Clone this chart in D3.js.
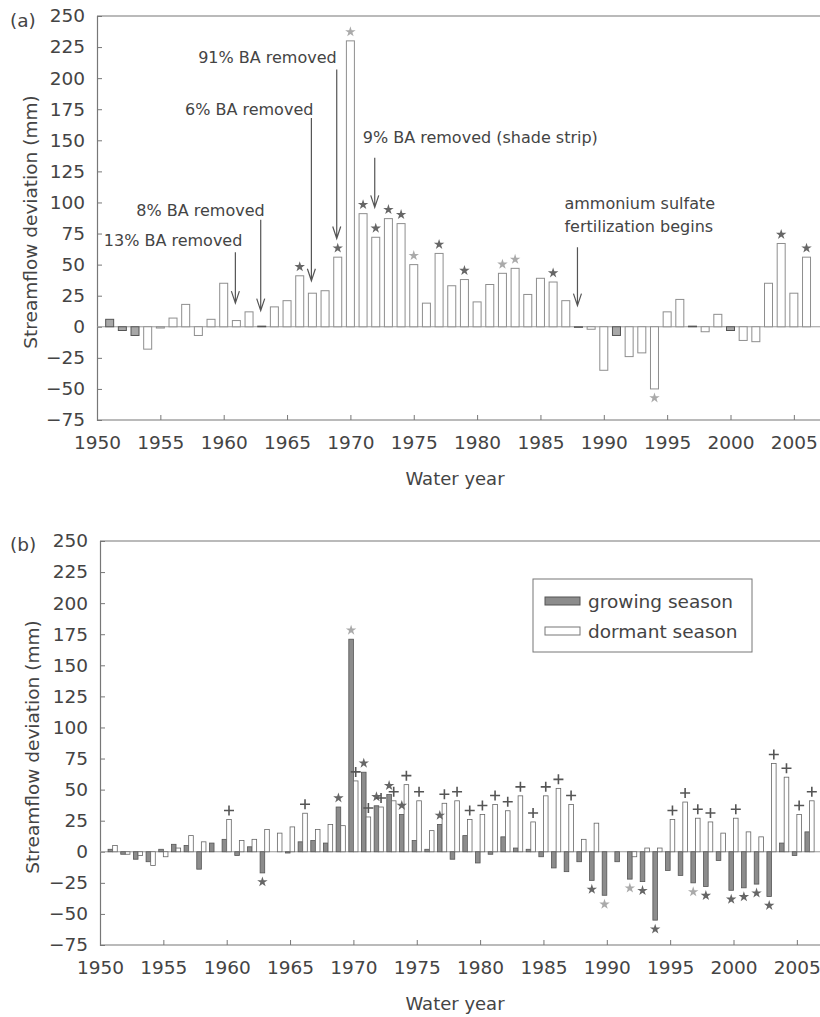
<!DOCTYPE html>
<html>
<head>
<meta charset="utf-8">
<script src="https://cdn.jsdelivr.net/npm/d3@7"></script>
<style>
  body { margin: 0; background: #fff; }
  svg { display: block; }
  text { font-family: "DejaVu Sans", sans-serif; fill: #444; }
</style>
</head>
<body>
<div id="chart"></div>
<script>
// ---- panel (a): annual streamflow deviation ----
const yearsA = d3.range(1951, 2008);
const annualDev = [
   6,  -3,  -7, -18,  -1,   7,  18,  -7,   6,  35,   // 1951-1960
   5,  12, 0.5,  16,  21,  41,  27,  29,  56, 230,   // 1961-1970
  91,  72,  87,  83,  50,  19,  59,  33,  38,  20,   // 1971-1980
  34,  43,  47,  26,  39,  36,  21,-0.5,  -2, -35,   // 1981-1990
  -7, -24, -21, -50,  12,  22, 0.5,  -4,  10,  -3,   // 1991-2000
 -11, -12,  35,  67,  27,  56,   0                    // 2001-2007
];
const shadedYearsA = [1951, 1952, 1953, 1991, 2000];
const starsA = [1966, 1969, 1971, 1972, 1973, 1974, 1977, 1979, 1986, 2004, 2006];
const starsALight = [1970, 1975, 1982, 1983, 1994];

const treatments = [
  { text: ["13% BA removed"], year: 1961, from: 60, to: 19 },
  { text: ["8% BA removed"], year: 1963, from: 86, to: 13 },
  { text: ["6% BA removed"], year: 1967, from: 168, to: 37 },
  { text: ["91% BA removed"], year: 1969, from: 207, to: 71 },
  { text: ["9% BA removed (shade strip)"], year: 1972, from: 136, to: 96 },
  { text: ["ammonium sulfate", "fertilization begins"], year: 1988, from: 64, to: 17 }
];

// ---- panel (b): growing vs dormant season ----
const yearsB = d3.range(1951, 2007);
const growingDev = [
   2,  -2,  -6,  -8,   2,   6,   5, -14,   7,  10,   // 1951-1960
  -3,   4, -17,   0,  -1,   8,   9,   7,  36, 171,   // 1961-1970
  64,  37,  46,  30,   9,   2,  22,  -6,  13,  -9,   // 1971-1980
  -2,  12,   3,   2,  -4, -13, -16,  -8, -23, -35,   // 1981-1990
  -8, -22, -24, -55, -15, -19, -25, -28,  -7, -31,   // 1991-2000
 -29, -26, -36,   7,  -3,  16                         // 2001-2006
];
const dormantDev = [
   5,  -2,  -3, -11,  -4,   3,  13,   8,   0,  26,   // 1951-1960
   9,  10,  18,  15,  20,  31,  18,  22,  21,  57,   // 1961-1970
  28,  36,  41,  54,  41,  17,  39,  41,  26,  30,   // 1971-1980
  38,  33,  45,  24,  45,  51,  38,  10,  23,   0,   // 1981-1990
   0,  -4,   3,   3,  26,  40,  27,  24,  15,  27,   // 1991-2000
  16,  12,  71,  60,  30,  41                         // 2001-2006
];
const starsGrowing = [1963, 1969, 1971, 1972, 1973, 1974, 1977, 1989, 1993, 1994, 1998, 2000, 2001, 2002, 2003];
const starsGrowingLight = [1970, 1990, 1992, 1997];
const plusDormant = [1960, 1966, 1970, 1971, 1972, 1973, 1974, 1975, 1977, 1978, 1979, 1980, 1981, 1982,
  1983, 1984, 1985, 1986, 1987, 1995, 1996, 1997, 1998, 2000, 2003, 2004, 2005, 2006];

const seriesNames = ["growing season", "dormant season"];
const yTicks = d3.range(-75, 251, 25);
const xTicks = d3.range(1950, 2006, 5);

// ---- layout ----
const W = 820, H = 1017;
const perYear = 12.67;
const panels = [
  { tag: "(a)", x0: 97, top: 16, bottom: 420, tagY: 27, titleX: 37, xLabelY: 485 },
  { tag: "(b)", x0: 100, top: 541, bottom: 945, tagY: 551, titleX: 39, xLabelY: 1010 }
];
// text offsets for the treatment labels, relative to the arrow top
const annoLayout = [
  { anchor: "end", dx: 7, dy: -6 },
  { anchor: "end", dx: 4, dy: -4 },
  { anchor: "end", dx: 2, dy: -3 },
  { anchor: "end", dx: 0, dy: -6 },
  { anchor: "start", dx: -12, dy: -15 },
  { anchor: "start", dx: -13, dy: -15 }
];

const svg = d3.select("#chart").append("svg")
  .attr("width", W)
  .attr("height", H);

function drawFrame(p) {
  const x = d3.scaleLinear().domain([1950, 2008]).range([p.x0, p.x0 + 58 * perYear]);
  const y = d3.scaleLinear().domain([-75, 250]).range([p.bottom, p.top]);
  const g = svg.append("g");

  // top border
  g.append("line")
    .attr("x1", p.x0).attr("x2", W)
    .attr("y1", p.top).attr("y2", p.top)
    .attr("stroke", "#777").attr("stroke-width", 1.2);

  const yAxis = g.append("g")
    .attr("transform", `translate(${p.x0},0)`)
    .call(d3.axisLeft(y).tickValues(yTicks).tickSize(-5).tickPadding(12));
  const xAxis = g.append("g")
    .attr("transform", `translate(0,${p.bottom})`)
    .call(d3.axisBottom(x).tickValues(xTicks).tickFormat(d3.format("d")).tickSize(-5).tickPadding(16));

  [yAxis, xAxis].forEach(a => {
    a.select(".domain").attr("stroke", "#777").attr("stroke-width", 1.2);
    a.selectAll(".tick line").attr("stroke", "#777");
    a.selectAll(".tick text").style("font-size", "18.5px").attr("fill", "#444");
  });
  xAxis.select(".domain").attr("d", `M${p.x0},0H${W}`);

  g.append("text")
    .attr("x", 10).attr("y", p.tagY)
    .style("font-size", "18.5px")
    .text(p.tag);

  g.append("text")
    .attr("transform", `translate(${p.titleX},${(p.top + p.bottom) / 2 + 4}) rotate(-90)`)
    .attr("text-anchor", "middle")
    .style("font-size", "18.5px")
    .text("Streamflow deviation (mm)");

  g.append("text")
    .attr("x", 455).attr("y", p.xLabelY)
    .attr("text-anchor", "middle")
    .style("font-size", "18px")
    .text("Water year");

  // zero line
  g.append("line")
    .attr("x1", p.x0).attr("x2", W)
    .attr("y1", y(0)).attr("y2", y(0))
    .attr("stroke", "#999").attr("stroke-width", 1);

  return { g, x, y };
}

const star = d3.symbol().type(d3.symbolStar).size(34);
const plusPath = "M-5,0H5M0,-5V5";

function drawStars(g, list, xPos, yPos, color) {
  g.selectAll(null)
    .data(list)
    .enter().append("path")
    .attr("d", star)
    .attr("transform", d => `translate(${xPos(d)},${yPos(d)})`)
    .attr("fill", color);
}

// ---------- panel (a) ----------
{
  const { g, x, y } = drawFrame(panels[0]);
  const bw = 8;
  const dataA = yearsA.map((yr, i) => ({ year: yr, v: annualDev[i] }));

  g.append("g").selectAll("rect")
    .data(dataA)
    .enter().append("rect")
    .attr("x", d => x(d.year) - bw / 2)
    .attr("width", bw)
    .attr("y", d => y(Math.max(0, d.v)))
    .attr("height", d => Math.abs(y(d.v) - y(0)))
    .attr("fill", d => shadedYearsA.includes(d.year) ? "#a8a8a8" : "#fff")
    .attr("stroke", d => shadedYearsA.includes(d.year) || Math.abs(d.v) < 1 ? "#555" : "#8e8e8e")
    .attr("stroke-width", 1);

  const valA = yr => annualDev[yearsA.indexOf(yr)];
  const markY = yr => valA(yr) >= 0 ? y(valA(yr)) - 9 : y(valA(yr)) + 9;
  drawStars(g, starsA, d => x(d), markY, "#666");
  drawStars(g, starsALight, d => x(d), markY, "#aaa");

  // treatment arrows
  treatments.forEach((t, i) => {
    const L = annoLayout[i];
    const ax = x(t.year) - 1, y1 = y(t.from), y2 = y(t.to);
    g.append("path")
      .attr("d", `M${ax},${y1}V${y2}M${ax - 4},${y2 - 12}L${ax},${y2}L${ax + 4},${y2 - 12}`)
      .attr("fill", "none")
      .attr("stroke", "#555")
      .attr("stroke-width", 1.2);
    const n = t.text.length;
    t.text.forEach((line, j) => {
      g.append("text")
        .attr("x", ax + L.dx)
        .attr("y", y1 + L.dy - (n - 1 - j) * 23)
        .attr("text-anchor", L.anchor)
        .style("font-size", "16px")
        .text(line);
    });
  });
}

// ---------- panel (b) ----------
{
  const { g, x, y } = drawFrame(panels[1]);
  const bw = 4.6;
  const dataB = yearsB.map((yr, i) => ({ year: yr, g: growingDev[i], d: dormantDev[i] }));

  g.append("g").selectAll("rect")
    .data(dataB)
    .enter().append("rect")
    .attr("x", d => x(d.year) - bw)
    .attr("width", bw)
    .attr("y", d => y(Math.max(0, d.g)))
    .attr("height", d => Math.abs(y(d.g) - y(0)))
    .attr("fill", "#8c8c8c")
    .attr("stroke", "#555")
    .attr("stroke-width", 0.8);

  g.append("g").selectAll("rect")
    .data(dataB)
    .enter().append("rect")
    .attr("x", d => x(d.year))
    .attr("width", bw)
    .attr("y", d => y(Math.max(0, d.d)))
    .attr("height", d => Math.abs(y(d.d) - y(0)))
    .attr("fill", "#fff")
    .attr("stroke", "#666")
    .attr("stroke-width", 0.8);

  const valG = yr => growingDev[yearsB.indexOf(yr)];
  const valD = yr => dormantDev[yearsB.indexOf(yr)];
  const gMarkY = yr => valG(yr) >= 0 ? y(valG(yr)) - 9 : y(valG(yr)) + 9;
  drawStars(g, starsGrowing, d => x(d) - bw / 2, gMarkY, "#666");
  drawStars(g, starsGrowingLight, d => x(d) - bw / 2, gMarkY, "#aaa");

  g.selectAll(null)
    .data(plusDormant)
    .enter().append("path")
    .attr("d", plusPath)
    .attr("transform", d => `translate(${x(d) + bw / 2},${y(valD(d)) - 9})`)
    .attr("fill", "none")
    .attr("stroke", "#555")
    .attr("stroke-width", 1.6);

  // legend
  const lg = g.append("g").attr("transform", "translate(533,579)");
  lg.append("rect")
    .attr("width", 219).attr("height", 73)
    .attr("fill", "#fff").attr("stroke", "#777").attr("stroke-width", 1);
  const swatchFill = ["#8c8c8c", "#fff"];
  const swatchStroke = ["#555", "#777"];
  seriesNames.forEach((name, i) => {
    lg.append("rect")
      .attr("x", 12).attr("y", 18 + i * 30)
      .attr("width", 35).attr("height", 8)
      .attr("fill", swatchFill[i]).attr("stroke", swatchStroke[i]);
    lg.append("text")
      .attr("x", 55).attr("y", 29 + i * 30)
      .style("font-size", "18.5px")
      .text(name);
  });
}
</script>
</body>
</html>
